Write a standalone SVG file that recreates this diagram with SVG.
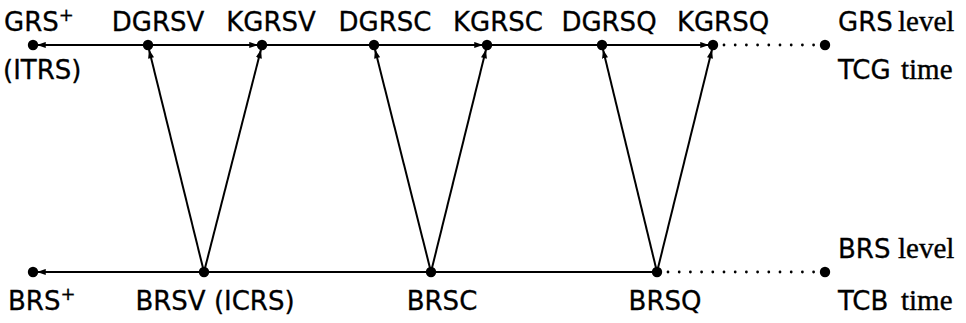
<svg xmlns="http://www.w3.org/2000/svg" width="966" height="323" viewBox="0 0 966 323">
<defs>
<style>
.ln{stroke:#000;stroke-width:2;fill:none}
.dt{stroke:#000;stroke-width:2.8;fill:none;stroke-linecap:round;stroke-dasharray:0 11.2}
.pt{fill:#000}
.s{font-family:"DejaVu Sans","Liberation Sans",sans-serif;font-size:26px;fill:#000;stroke:#000;stroke-width:0.3}
.r{font-family:"Liberation Serif","DejaVu Serif",serif;font-size:29px;fill:#000;stroke:#000;stroke-width:0.4}
.sup{font-size:18px}
</style>
<marker id="ah" viewBox="0 0 10 8" refX="10" refY="4" markerWidth="9" markerHeight="7" orient="auto" markerUnits="userSpaceOnUse">
<path d="M0,0.5 L10,4 L0,7.5 Z" fill="#000"/>
</marker>
</defs>
<rect width="966" height="323" fill="#fff"/>
<g id="connectors">
<line class="ln" x1="148" y1="45" x2="37" y2="45" marker-end="url(#ah)"/>
<line class="ln" x1="148" y1="45" x2="258" y2="45" marker-end="url(#ah)"/>
<line class="ln" x1="262" y1="45" x2="374" y2="45"/>
<line class="ln" x1="374" y1="45" x2="483" y2="45" marker-end="url(#ah)"/>
<line class="ln" x1="487" y1="45" x2="602" y2="45"/>
<line class="ln" x1="602" y1="45" x2="709" y2="45" marker-end="url(#ah)"/>
<line class="dt" x1="724" y1="45" x2="816" y2="45"/>
<line class="ln" x1="204" y1="272" x2="37" y2="272" marker-end="url(#ah)"/>
<line class="ln" x1="204" y1="272" x2="657" y2="272"/>
<line class="dt" x1="668" y1="272" x2="816" y2="272"/>
<line class="ln" x1="204" y1="272" x2="149" y2="49.5" marker-end="url(#ah)"/>
<line class="ln" x1="204" y1="272" x2="261" y2="49.5" marker-end="url(#ah)"/>
<line class="ln" x1="431" y1="272" x2="375" y2="49.5" marker-end="url(#ah)"/>
<line class="ln" x1="431" y1="272" x2="486" y2="49.5" marker-end="url(#ah)"/>
<line class="ln" x1="657" y1="272" x2="603" y2="49.5" marker-end="url(#ah)"/>
<line class="ln" x1="657" y1="272" x2="712" y2="49.5" marker-end="url(#ah)"/>
</g>
<g id="GRSplus"><circle class="pt" cx="33" cy="45" r="5.2"/><text class="s" x="4" y="31">GRS<tspan class="sup" dy="-10">+</tspan></text><text class="s" x="3" y="79">(ITRS)</text></g>
<g id="DGRSV"><circle class="pt" cx="148" cy="45" r="5.2"/><text class="s" x="158" y="31" text-anchor="middle">DGRSV</text></g>
<g id="KGRSV"><circle class="pt" cx="262" cy="45" r="5.2"/><text class="s" x="271" y="31" text-anchor="middle">KGRSV</text></g>
<g id="DGRSC"><circle class="pt" cx="374" cy="45" r="5.2"/><text class="s" x="385" y="31" text-anchor="middle">DGRSC</text></g>
<g id="KGRSC"><circle class="pt" cx="487" cy="45" r="5.2"/><text class="s" x="498" y="31" text-anchor="middle">KGRSC</text></g>
<g id="DGRSQ"><circle class="pt" cx="602" cy="45" r="5.2"/><text class="s" x="609" y="31" text-anchor="middle">DGRSQ</text></g>
<g id="KGRSQ"><circle class="pt" cx="713" cy="45" r="5.2"/><text class="s" x="723" y="31" text-anchor="middle">KGRSQ</text></g>
<g id="GRSlevel"><circle class="pt" cx="825" cy="45" r="5.2"/><text x="838" y="31"><tspan class="s">GRS</tspan><tspan class="r" x="898">level</tspan></text><text x="838" y="79"><tspan class="s">TCG</tspan><tspan class="r" x="901">time</tspan></text></g>
<g id="BRSplus"><circle class="pt" cx="33" cy="272" r="5.2"/><text class="s" x="8" y="310">BRS<tspan class="sup" dy="-10">+</tspan></text></g>
<g id="BRSV"><circle class="pt" cx="204" cy="272" r="5.2"/><text class="s" x="215" y="310" text-anchor="middle">BRSV (ICRS)</text></g>
<g id="BRSC"><circle class="pt" cx="431" cy="272" r="5.2"/><text class="s" x="442" y="310" text-anchor="middle">BRSC</text></g>
<g id="BRSQ"><circle class="pt" cx="657" cy="272" r="5.2"/><text class="s" x="665" y="310" text-anchor="middle">BRSQ</text></g>
<g id="BRSlevel"><circle class="pt" cx="825" cy="272" r="5.2"/><text x="838" y="258"><tspan class="s">BRS</tspan><tspan class="r" x="898">level</tspan></text><text x="838" y="310"><tspan class="s">TCB</tspan><tspan class="r" x="901">time</tspan></text></g>
</svg>
